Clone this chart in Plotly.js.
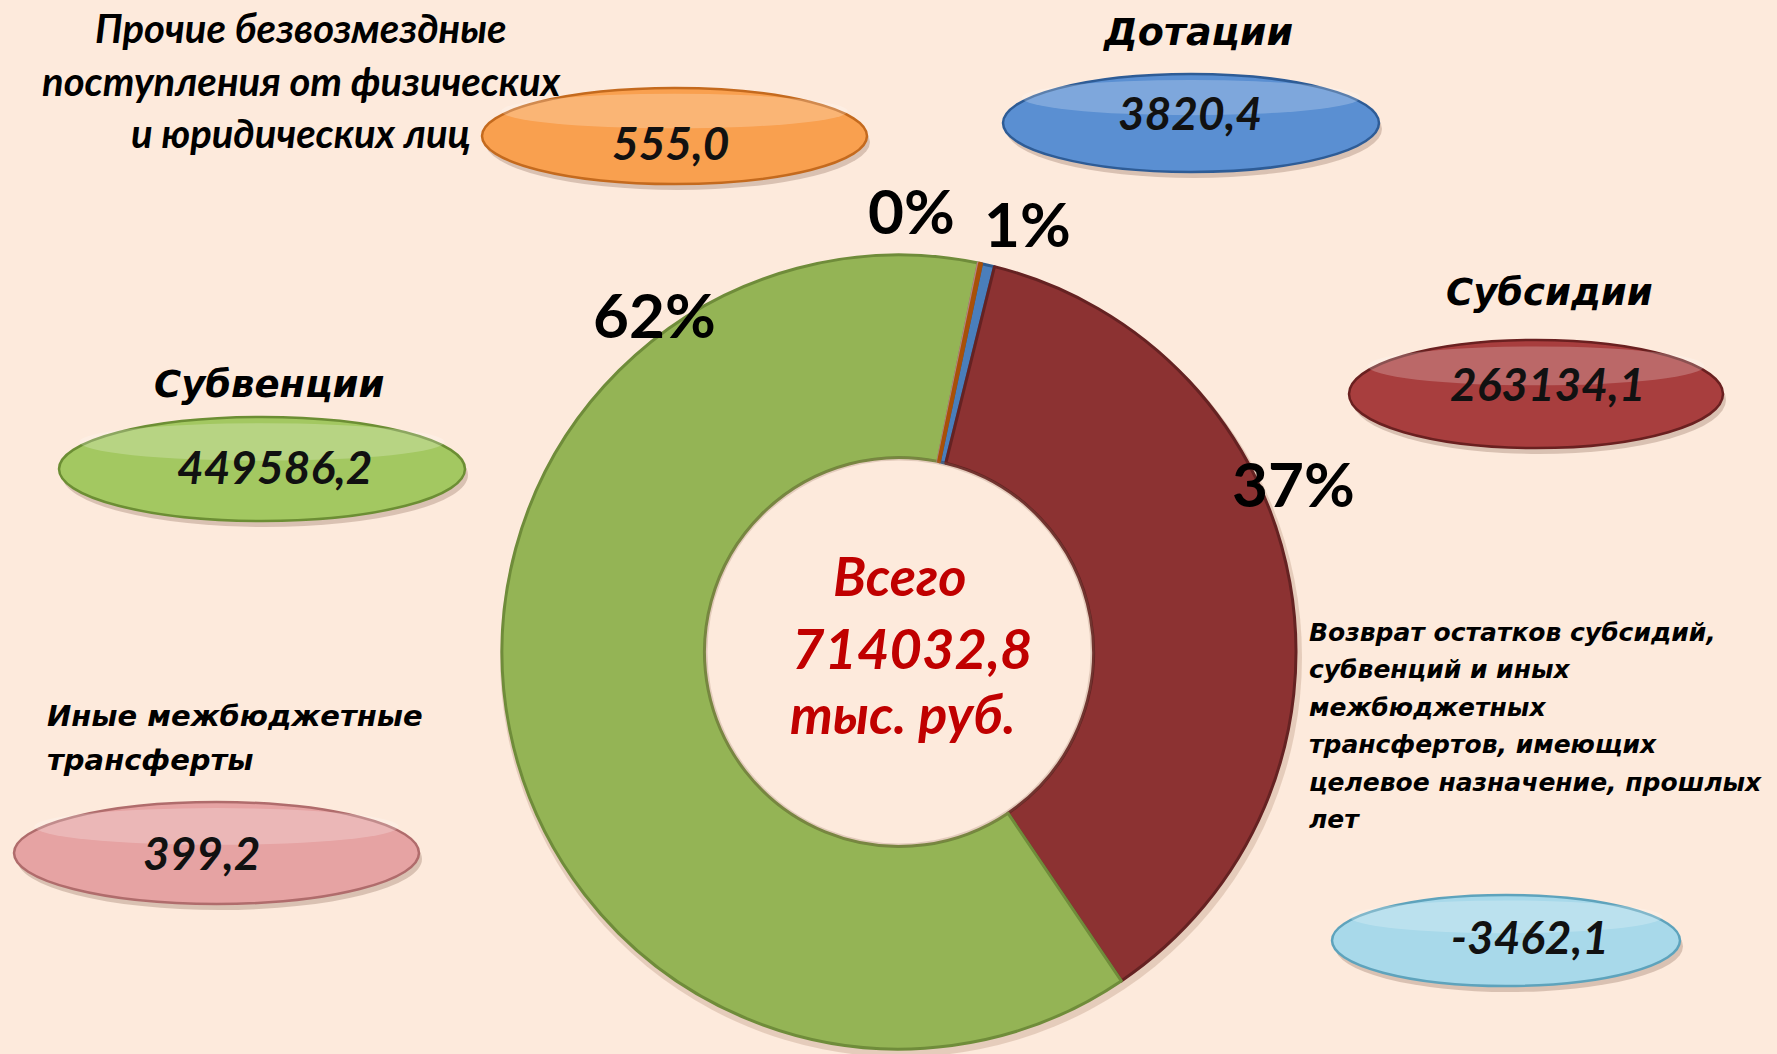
<!DOCTYPE html>
<html>
<head>
<meta charset="utf-8">
<script src="https://cdn.plot.ly/plotly-3.0.1.min.js"></script>
<style>
  html, body { margin: 0; padding: 0; background: #FDEADC; }
  #chart { width: 1777px; height: 1054px; }
</style>
</head>
<body>
<div id="chart"></div>
<script>
// ---- data ----
const categories = ['Дотации', 'Субсидии', 'Субвенции', 'Иные межбюджетные трансферты',
  'Прочие безвозмездные поступления от физических и юридических лиц'];
const titleLines = ['Дотации', 'Субсидии', 'Субвенции', 'Иные межбюджетные<br>трансферты',
  'Прочие безвозмездные<br>поступления от физических<br>и юридических лиц'];
const values = [3820.4, 263134.1, 449586.2, 399.2, 555.0];
const percentLabels = ['1%', '37%', '62%', '', '0%'];
const returnTitle = 'Возврат остатков субсидий,<br>субвенций и иных<br>межбюджетных<br>трансфертов, имеющих<br>целевое назначение, прошлых<br>лет';
const returnValue = -3462.1;
const totalValue = 714032.8;
const totalUnit = 'тыс. руб.';
const totalTitle = 'Всего';

// ---- styling ----
const W = 1777, H = 1054;
const BG = '#FDEADC';
const px = x => x / W;
const py = y => 1 - y / H;
const fmt = v => v.toFixed(1).replace('.', ',');

const sliceColors = ['#4A7EBB', '#8C3232', '#94B455', '#E6B9B8', '#E46C0A'];
const sliceLines = ['#2F5B8E', '#652222', '#6F8C3A', '#B88080', '#A85008'];

const calibri = 'Lato, "Open Sans", sans-serif';
const verdana = '"DejaVu Sans", Verdana, sans-serif';

const cx = 899, cy = 652, R = 397, HOLE = 0.49;

const pie = {
  type: 'pie',
  labels: categories,
  values: values,
  sort: false,
  direction: 'clockwise',
  rotation: 12,
  hole: HOLE,
  textinfo: 'none',
  hoverinfo: 'label+value',
  showlegend: false,
  marker: { colors: sliceColors, line: { color: sliceLines, width: 3 } },
  domain: { x: [px(cx - R), px(cx + R)], y: [py(cy + R), py(cy - R)] }
};

// ellipse badges
const badges = [
  { box: [1003, 74, 1379, 172], fill: '#5A8FD2', line: '#2E5C96', tx: 1190, ty: 113, v: fmt(values[0]) },
  { box: [1349, 340, 1723, 448], fill: '#A83E3E', line: '#6A2020', tx: 1547, ty: 384, v: fmt(values[1]) },
  { box: [59, 417, 465, 521], fill: '#A3C861', line: '#6C8E34', tx: 274, ty: 466, v: fmt(values[2]) },
  { box: [14, 802, 419, 904], fill: '#E6A3A3', line: '#B06C6C', tx: 202, ty: 852, v: fmt(values[3]) },
  { box: [482, 88, 867, 184], fill: '#F9A04F', line: '#C46A1E', tx: 671, ty: 142, v: fmt(values[4]) },
  { box: [1332, 895, 1680, 986], fill: '#A8D9EA', line: '#5EA3BC', tx: 1530, ty: 936, v: fmt(returnValue) }
];

const shapes = [];
// donut shadow ring, then hole restored to background
shapes.push({ type: 'circle', xref: 'paper', yref: 'paper', layer: 'below',
  x0: px(cx - R - 2), x1: px(cx + R + 6), y0: py(cy + R + 8), y1: py(cy - R + 2),
  fillcolor: 'rgba(120,70,40,0.18)', line: { width: 0 } });
const r0 = R * HOLE;
shapes.push({ type: 'circle', xref: 'paper', yref: 'paper', layer: 'below',
  x0: px(cx - r0 - 2), x1: px(cx + r0 + 2), y0: py(cy + r0 + 2), y1: py(cy - r0 - 2),
  fillcolor: BG, line: { width: 0 } });
// soft inner shade at hole rim
shapes.push({ type: 'circle', xref: 'paper', yref: 'paper',
  x0: px(cx - r0 + 1), x1: px(cx + r0 - 1), y0: py(cy + r0 - 1), y1: py(cy - r0 + 1),
  fillcolor: 'rgba(0,0,0,0)', line: { color: 'rgba(150,110,90,0.25)', width: 4 } });

badges.forEach(b => {
  const [x0, y0, x1, y1] = b.box;
  const w = x1 - x0, h = y1 - y0;
  shapes.push({ type: 'circle', xref: 'paper', yref: 'paper',
    x0: px(x0 + 3), x1: px(x1 + 3), y0: py(y1 + 6), y1: py(y0 + 6),
    fillcolor: 'rgba(90,50,30,0.22)', line: { width: 0 } });
  shapes.push({ type: 'circle', xref: 'paper', yref: 'paper',
    x0: px(x0), x1: px(x1), y0: py(y1), y1: py(y0),
    fillcolor: b.fill, line: { color: b.line, width: 2.5 } });
  shapes.push({ type: 'circle', xref: 'paper', yref: 'paper',
    x0: px(x0 + 0.05 * w), x1: px(x1 - 0.05 * w), y0: py(y0 + 0.42 * h), y1: py(y0 + 0.06 * h),
    fillcolor: 'rgba(255,255,255,0.22)', line: { width: 0 } });
});

const annotations = [];
function ann(text, x, y, font, extra) {
  annotations.push(Object.assign({ text: text, x: px(x), y: py(y), xref: 'paper', yref: 'paper',
    showarrow: false, font: font, xanchor: 'center', yanchor: 'middle' }, extra || {}));
}
function annLines(text, x, y0, step, font, extra) {
  text.split('<br>').forEach((line, i) => ann('<b><i>' + line + '</i></b>', x, y0 + i * step, font, extra));
}

// badge values
badges.forEach(b => ann('<b><i>' + b.v + '</i></b>', b.tx, b.ty, { family: calibri, size: 46, color: '#111' }));

// category titles
ann('<b><i>' + titleLines[0] + '</i></b>', 1198, 32, { family: verdana, size: 38, color: '#000' });
ann('<b><i>' + titleLines[1] + '</i></b>', 1549, 292, { family: verdana, size: 37, color: '#000' });
ann('<b><i>' + titleLines[2] + '</i></b>', 269, 385, { family: verdana, size: 37, color: '#000' });
annLines(titleLines[3], 45, 716, 44, { family: verdana, size: 29, color: '#000' }, { xanchor: 'left', align: 'left' });
annLines(titleLines[4], 301, 28, 52.5, { family: calibri, size: 40, color: '#000' });
annLines(returnTitle, 1307, 632, 37.5, { family: verdana, size: 25, color: '#000' }, { xanchor: 'left', align: 'left' });

// percent labels
const pctPos = [[1027, 223], [1293, 483], [654, 314], null, [912, 210]];
percentLabels.forEach((t, i) => {
  if (t && pctPos[i]) ann('<b>' + t + '</b>', pctPos[i][0], pctPos[i][1], { family: calibri, size: 62, color: '#000' });
});

// centre total
ann('<b><i>' + totalTitle + '</i></b>', 899, 575, { family: calibri, size: 54, color: '#C00000' });
ann('<b><i>' + fmt(totalValue) + '</i></b>', 913, 647, { family: calibri, size: 56, color: '#C00000' });
ann('<b><i>' + totalUnit + '</i></b>', 903, 713, { family: calibri, size: 54, color: '#C00000' });

const layout = {
  width: W, height: H,
  margin: { l: 0, r: 0, t: 0, b: 0 },
  paper_bgcolor: BG,
  plot_bgcolor: BG,
  shapes: shapes,
  annotations: annotations,
  showlegend: false
};

Plotly.newPlot('chart', [pie], layout, { displayModeBar: false, staticPlot: true });
</script>
</body>
</html>
